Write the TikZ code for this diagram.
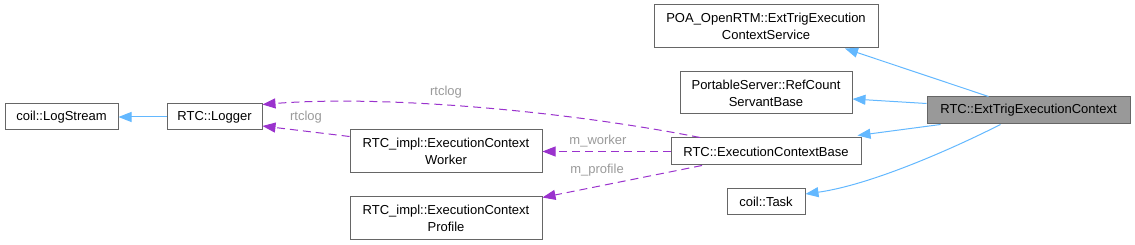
\documentclass[tikz,border=0pt]{standalone}
\usepackage{fontspec}
\setmainfont{Liberation Sans}
\usetikzlibrary{arrows.meta}
\definecolor{edgeblue}{HTML}{63B8FF}
\definecolor{edgepurple}{HTML}{9A32CD}
\definecolor{boxgrey}{HTML}{666666}
\definecolor{curfill}{HTML}{999999}
\definecolor{labgrey}{HTML}{9A9A9A}
\tikzset{
  cls/.style={draw=boxgrey, line width=1pt, fill=white, inner sep=0pt, align=center,
    font=\fontsize{13}{17}\selectfont},
  cur/.style={cls, fill=curfill},
  inh/.style={draw=edgeblue, line width=1pt, -{Triangle[length=13pt,width=10pt,fill=edgeblue]}},
  use/.style={draw=edgepurple, line width=1pt, dash pattern=on 8pt off 5pt,
    -{Triangle[length=13pt,width=10pt,fill=edgepurple]}},
  lab/.style={text=labgrey, inner sep=0pt, font=\fontsize{13}{16}\selectfont},
}
\begin{document}
\begin{tikzpicture}[x=1pt,y=-1pt]
\useasboundingbox (0,0) rectangle (1135,245);
\node[cls, minimum width=113pt, minimum height=26pt] (logstream) at (61.5,117) {coil::LogStream};
\node[cls, minimum width=95pt, minimum height=26pt] (logger) at (214.5,117) {RTC::Logger};
\node[cls, minimum width=192pt, minimum height=43pt] (worker) at (446,151.5) {RTC\_impl::ExecutionContext\\Worker};
\node[cls, minimum width=192pt, minimum height=43pt] (profile) at (446,218.5) {RTC\_impl::ExecutionContext\\Profile};
\node[cls, minimum width=190pt, minimum height=27pt] (ecb) at (766,151.5) {RTC::ExecutionContextBase};
\node[cls, minimum width=78pt, minimum height=26pt] (task) at (766,202) {coil::Task};
\node[cls, minimum width=224pt, minimum height=43pt] (poa) at (766,26.5) {POA\_OpenRTM::ExtTrigExecution\\ContextService};
\node[cls, minimum width=172pt, minimum height=42pt] (ps) at (766,93) {PortableServer::RefCount\\ServantBase};
\node[cur, minimum width=203pt, minimum height=27pt] (ext) at (1028.5,110.5) {RTC::ExtTrigExecutionContext};

\draw[inh] (logger.west) -- (logstream.east);
\draw[inh] ([xshift=-40pt]ext.north) -- ([xshift=79pt]poa.south);
\draw[inh] ([yshift=7pt]ext.west) -- ([yshift=-6pt]ps.east);
\draw[inh] ([xshift=-88pt]ext.south) -- ([xshift=-4pt,yshift=2pt]ecb.north east);
\draw[inh] ([xshift=-28pt]ext.south) .. controls (950,150) and (870,185) .. ([yshift=8pt]task.east);

\draw[use] ([xshift=-66pt]ecb.north) .. controls (560,110) and (380,95) .. ([yshift=-1pt]logger.north east);
\draw[use] ([yshift=-7pt]worker.north west) -- ([yshift=-9pt]logger.east);
\draw[use] (ecb.west) -- (worker.east);
\draw[use] ([xshift=-64pt]ecb.south) -- ([yshift=-1pt]profile.north east);

\node[lab] (l1) at (446,92) {rtclog};
\node[lab] (l2) at (306,117) {rtclog};
\node[lab] (l3) at (598,141) {m\_worker};
\node[lab] (l4) at (597,170) {m\_profile};
\end{tikzpicture}
\end{document}
